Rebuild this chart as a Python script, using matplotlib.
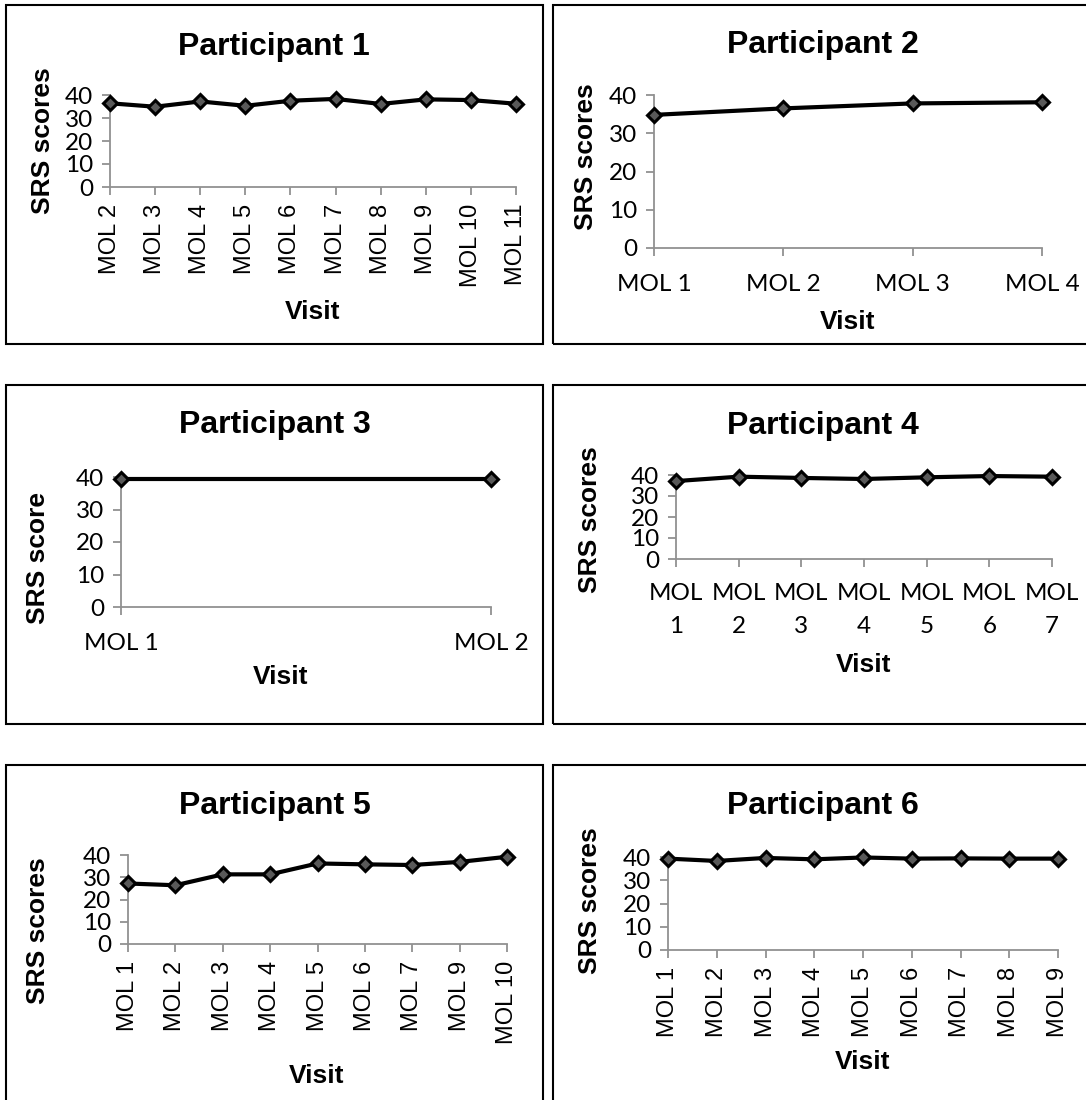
import matplotlib
matplotlib.use("Agg")
import matplotlib.pyplot as plt
from matplotlib.patches import Rectangle

# ---------------------------------------------
# Data: SRS scores per visit, one list per participant
# ---------------------------------------------
p1_visits = ["MOL 2", "MOL 3", "MOL 4", "MOL 5", "MOL 6", "MOL 7", "MOL 8", "MOL 9", "MOL 10", "MOL 11"]
p1_scores = [36.4, 34.9, 37.2, 35.3, 37.5, 38.3, 36.1, 38.1, 37.8, 36.2]

p2_visits = ["MOL 1", "MOL 2", "MOL 3", "MOL 4"]
p2_scores = [34.8, 36.5, 37.8, 38.1]

p3_visits = ["MOL 1", "MOL 2"]
p3_scores = [39.3, 39.3]

p4_visits = ["MOL 1", "MOL 2", "MOL 3", "MOL 4", "MOL 5", "MOL 6", "MOL 7"]
p4_scores = [37.1, 39.2, 38.6, 38.1, 38.9, 39.5, 39.2]

p5_visits = ["MOL 1", "MOL 2", "MOL 3", "MOL 4", "MOL 5", "MOL 6", "MOL 7", "MOL 9", "MOL 10"]
p5_scores = [27.2, 26.4, 31.3, 31.3, 36.2, 35.8, 35.5, 36.9, 39.2]

p6_visits = ["MOL 1", "MOL 2", "MOL 3", "MOL 4", "MOL 5", "MOL 6", "MOL 7", "MOL 8", "MOL 9"]
p6_scores = [39.3, 38.3, 39.6, 39.0, 39.8, 39.3, 39.4, 39.3, 39.3]

titles = ["Participant 1", "Participant 2", "Participant 3",
          "Participant 4", "Participant 5", "Participant 6"]
ylabels = ["SRS scores", "SRS scores", "SRS score", "SRS scores", "SRS scores", "SRS scores"]
yticks = [0, 10, 20, 30, 40]

# ---------------------------------------------
# Layout in pixels (figure is 1086 x 1100)
# frame, axes(l, t, r, b), title, ylabel, xlabel, tick mode
# ---------------------------------------------
W, H = 1086, 1100
layout = [
    dict(frame=(6, 5, 543, 344), axes=(110, 95, 516, 187), title=(274, 47),
         ylab=(43, 141), xlab=(313, 312), mode="rot"),
    dict(frame=(553, 5, 1092, 344), axes=(654, 95, 1042, 248), title=(823, 45),
         ylab=(586, 157), xlab=(848, 322), mode="flat"),
    dict(frame=(6, 385, 543, 724), axes=(121, 477, 491, 607), title=(275, 425),
         ylab=(38, 558), xlab=(281, 677), mode="flat"),
    dict(frame=(553, 385, 1092, 724), axes=(676, 475, 1052, 559), title=(823, 426),
         ylab=(590, 520), xlab=(864, 665), mode="wrap"),
    dict(frame=(6, 765, 543, 1106), axes=(128, 855, 507, 944), title=(275, 806),
         ylab=(38, 931), xlab=(317, 1076), mode="rot"),
    dict(frame=(553, 765, 1092, 1106), axes=(668, 857, 1058, 950), title=(823, 806),
         ylab=(590, 901), xlab=(863, 1062), mode="rot"),
]
visits = [p1_visits, p2_visits, p3_visits, p4_visits, p5_visits, p6_visits]
scores = [p1_scores, p2_scores, p3_scores, p4_scores, p5_scores, p6_scores]

bold = dict(family="Liberation Sans", weight="bold", color="black")
tick_font = "Lato"
rot_font = "Liberation Sans"
grey = "#919191"


def fx(x):
    return x / W


def fy(y):
    return 1 - y / H


fig = plt.figure(figsize=(W / 100, H / 100), dpi=100)

for i, lay in enumerate(layout):
    x0, y0, x1, y1 = lay["frame"]
    fig.add_artist(Rectangle((fx(x0), fy(y1)), (x1 - x0) / W, (y1 - y0) / H,
                             transform=fig.transFigure, fill=False,
                             ec="black", lw=1.5))

    l, t, r, b = lay["axes"]
    ax = fig.add_axes([fx(l), fy(b), (r - l) / W, (b - t) / H])
    n = len(visits[i])
    ax.plot(range(n), scores[i], color="black", lw=3.0, marker="D", ms=7.5,
            mfc="#595959", mec="black", mew=2.2, clip_on=False, zorder=3)
    ax.set_xlim(0, n - 1)
    ax.set_ylim(0, 40)
    ax.set_yticks(yticks)
    ax.set_xticks(range(n))
    for s in ["top", "right"]:
        ax.spines[s].set_visible(False)
    for s in ["left", "bottom"]:
        ax.spines[s].set_color(grey)
        ax.spines[s].set_linewidth(1.3)
    ax.tick_params(color=grey, length=6, width=1.3, direction="out")
    ax.tick_params(axis="y", pad=6)

    if lay["mode"] == "rot":
        ax.set_xticklabels(visits[i], rotation=90, fontsize=17, family=rot_font)
        ax.tick_params(axis="x", pad=6)
    elif lay["mode"] == "wrap":
        ax.set_xticklabels([v.replace(" ", "\n") for v in visits[i]],
                           fontsize=17.5, family=tick_font, linespacing=1.75)
        ax.tick_params(axis="x", pad=11)
    else:
        ax.set_xticklabels(visits[i], fontsize=17.5, family=tick_font)
        ax.tick_params(axis="x", pad=13)
    for lab in ax.get_yticklabels():
        lab.set_family(tick_font)
        lab.set_fontsize(17.5)

    fig.text(fx(lay["title"][0]), fy(lay["title"][1]), titles[i],
             fontsize=23, ha="center", va="center", **bold)
    fig.text(fx(lay["ylab"][0]), fy(lay["ylab"][1]), ylabels[i],
             fontsize=19, rotation=90, ha="center", va="center", **bold)
    fig.text(fx(lay["xlab"][0]), fy(lay["xlab"][1]), "Visit",
             fontsize=19, ha="center", va="center", **bold)

fig.savefig("out.png", dpi=100)
